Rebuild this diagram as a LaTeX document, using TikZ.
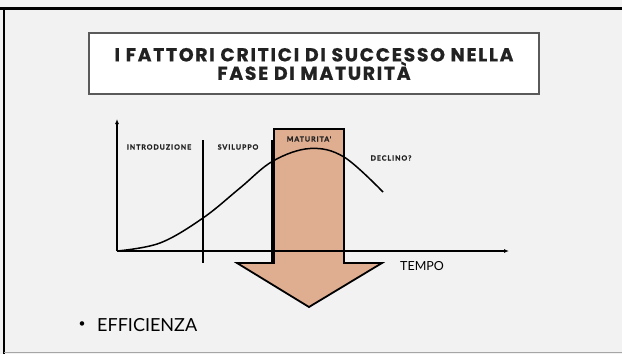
\documentclass[tikz,border=0pt]{standalone}
\usepackage{fontspec}
\setmainfont{Lato}
\newfontfamily\titlefont[LetterSpace=9, FakeBold=0.7]{Poppins Bold}
\newfontfamily\labfont[LetterSpace=14, FakeBold=1.3]{Lato Bold}
\usetikzlibrary{arrows.meta}
\definecolor{bg}{HTML}{F2F2F2}
\definecolor{arrowfill}{HTML}{DFAE91}
\definecolor{titlegray}{HTML}{5A5A5A}
\definecolor{ink}{HTML}{222222}
\tikzset{
  axis/.style={line width=1.5pt, -{Latex[length=5pt,width=4pt]}},
  divider/.style={line width=1.3pt},
  phase/.style={font=\labfont\fontsize{7}{8}\selectfont, text=ink, inner sep=0pt},
  plain/.style={text=black, inner sep=0pt}
}
\begin{document}
\begin{tikzpicture}[x=1pt,y=-1pt]
\useasboundingbox (0,0) rectangle (622,354);
\fill[bg] (0,0) rectangle (622,354);
% slide frame
\draw[line width=3pt] (0,8) -- (622,8);
\draw[line width=2.5pt] (4,8) -- (4,354);
\draw[line width=1pt, gray!70] (4,352.5) -- (622,352.5);
% title
\node[draw=titlegray, line width=1.3pt, fill=white, minimum width=450pt, minimum height=61pt, inner sep=0pt] (title) at (314,63.5) {};
\node[font=\titlefont\fontsize{18.8}{18.5}\selectfont, text=ink, align=center, inner sep=0pt] (titletext) at (314,64) {I FATTORI CRITICI DI SUCCESSO NELLA\\FASE DI MATURITÀ};
% big arrow
\draw[fill=arrowfill, line width=1.8pt, line join=miter] (274,129) coordinate (a1) -- (344,129) -- (344,263) -- (382,263) -- (309,307) coordinate (tip) -- (237,263) -- (274,263) -- cycle;
% axes
\coordinate (O) at (117,251);
\coordinate (ytop) at (117,119);
\coordinate (xend) at (509,251);
\draw[axis] (O) -- (ytop);
\draw[axis] (O) -- (xend);
% dividers
\draw[divider] (203,140) -- (203,263);
\draw[line width=1.6pt] (272,140) -- (272,263);
% curve
\draw[line width=1.5pt] plot[smooth, tension=0.6] coordinates {(117,251) (160,243) (203,218) (240,188) (273,161) (310,148.5) (344,157) (383,192)};
% labels
\node[phase] (intro) at (159,147) {INTRODUZIONE};
\node[phase] (svil) at (238,147) {SVILUPPO};
\node[phase] (mat) at (309,139) {MATURITA'};
\node[phase] (decl) at (391,158) {DECLINO?};
\node[plain, font=\fontsize{12.5}{15}\selectfont, anchor=west] (tempo) at (400,266.5) {TEMPO};
\node[plain, font=\fontsize{12}{20}\selectfont, anchor=center] (bullet) at (82,325) {•};
\node[plain, font=\fontsize{18}{20}\selectfont, anchor=west] (eff) at (97,325) {EFFICIENZA};
\end{tikzpicture}
\end{document}
